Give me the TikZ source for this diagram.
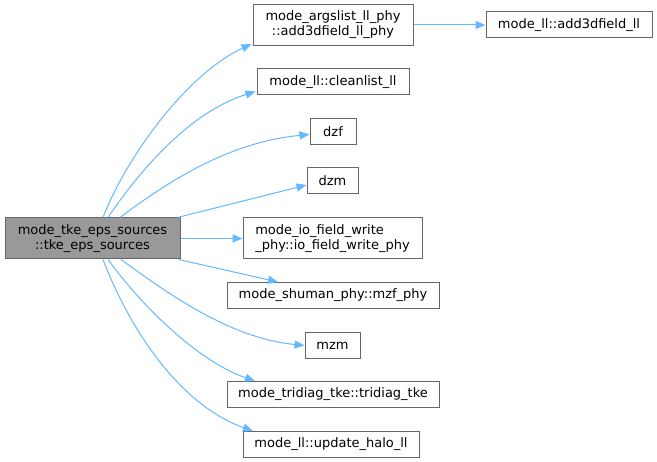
\documentclass[tikz,border=0pt]{standalone}
\usepackage{fontspec}
\setmainfont{DejaVu Sans}
\usetikzlibrary{arrows.meta,calc}
\definecolor{edgeblue}{HTML}{63B8FF}
\definecolor{boxgray}{HTML}{666666}
\definecolor{mainfill}{HTML}{999999}
\tikzset{
  fn/.style={draw=boxgray,line width=1pt,fill=white,inner sep=0pt,minimum height=26pt,
    font=\fontsize{13}{15}\selectfont,align=center},
  fntwo/.style={fn,minimum height=41pt},
  mainbox/.style={fntwo,fill=mainfill},
  call/.style={draw=edgeblue,line width=1pt,-{Triangle[length=10pt,width=8pt]}},
}
\begin{document}
\begin{tikzpicture}[x=1pt,y=-1pt]
\useasboundingbox (0,0) rectangle (657,462);
\node[mainbox,minimum width=175pt] (main) at (92.5,238.5) {mode\_tke\_eps\_sources\\::tke\_eps\_sources};
\node[fntwo,minimum width=160pt] (A) at (333,25) {mode\_argslist\_ll\_phy\\::add3dfield\_ll\_phy};
\node[fn,minimum width=166pt] (B) at (569,25) {mode\_ll::add3dfield\_ll};
\node[fn,minimum width=152pt] (C) at (333,82) {mode\_ll::cleanlist\_ll};
\node[fn,minimum width=46pt] (dzf) at (333,131.5) {dzf};
\node[fn,minimum width=51pt] (dzm) at (332.5,181) {dzm};
\node[fntwo,minimum width=179pt,align=left] (io) at (332.5,238.5) {mode\_io\_field\_write\\\_phy::io\_field\_write\_phy};
\node[fn,minimum width=212pt] (sh) at (333,295.5) {mode\_shuman\_phy::mzf\_phy};
\node[fn,minimum width=55pt] (mzm) at (332.5,345.5) {mzm};
\node[fn,minimum width=212pt] (tri) at (333,394.5) {mode\_tridiag\_tke::tridiag\_tke};
\node[fn,minimum width=176pt] (upd) at (331,444.5) {mode\_ll::update\_halo\_ll};

\draw[call] ($(main.north)+(10.5,0)$) .. controls (125,160) and (185,75) .. ($(A.south west)+(-1,-2)$);
\draw[call] ($(main.north)+(15.5,0)$) .. controls (140,170) and (190,112) .. ($(C.south west)+(-1,-4)$);
\draw[call] ($(main.north)+(27.5,0)$) .. controls (170,180) and (230,142) .. ($(dzf.west)+(0,3)$);
\draw[call] ($(main.north east)+(-3,0)$) -- ($(dzm.west)+(0,4)$);
\draw[call] (main.east) -- (io.west);
\draw[call] ($(main.south east)+(-2,0)$) -- ($(sh.north)+(-55,0)$);
\draw[call] ($(main.south)+(28.5,0)$) .. controls (170,295) and (230,338) .. (mzm.west);
\draw[call] ($(main.south)+(15.5,0)$) .. controls (145,310) and (200,362) .. ($(tri.north)+(-78,0)$);
\draw[call] ($(main.south)+(10.5,0)$) .. controls (130,330) and (180,405) .. ($(upd.north)+(-78,0)$);
\draw[call] (A.east) -- (B.west);
\end{tikzpicture}
\end{document}
